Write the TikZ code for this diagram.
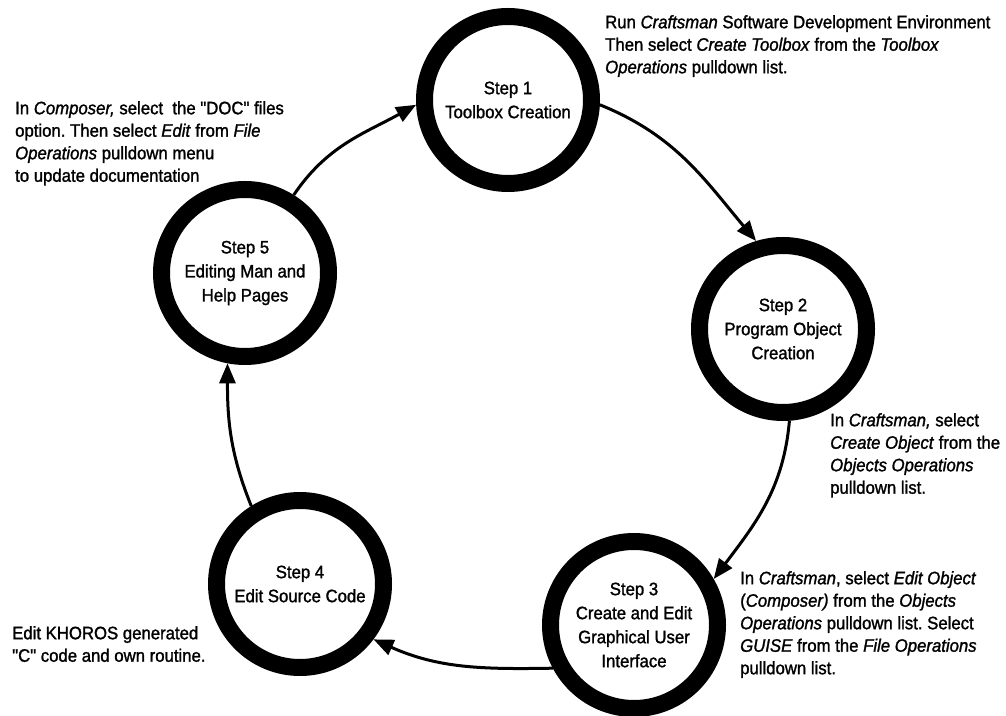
\documentclass[tikz,border=0pt]{standalone}
\usepackage{fontspec}
\setmainfont{Liberation Sans}[FakeStretch=0.93,FakeBold=1.4,Ligatures=TeXOff]
\usetikzlibrary{arrows.meta}
\tikzset{
    txt/.style={font=\fontsize{18}{22.5}\selectfont\frenchspacing},
}

\begin{document}
\begin{tikzpicture}[x=1pt,y=1pt,
                    stage/.style={circle,draw,line width=17pt,
                                  minimum size=167pt,inner sep=0pt,
                                  align=center,font=\fontsize{18}{24}\selectfont},
                    note/.style={anchor=north west,align=left,inner sep=0pt,txt},
                    flow/.style={line width=3pt,-{Triangle[length=20pt,width=16pt]}}]
    \useasboundingbox (0,0) rectangle (1006,715);
    % the five steps
    \node[stage] (s1) at (508,615) {Step 1\\Toolbox Creation};
    \node[stage] (s2) at (783,386) {Step 2\\Program Object\\Creation};
    \node[stage] (s3) at (634,90) {Step 3\\Create and Edit\\Graphical User\\Interface};
    \node[stage] (s4) at (300,131) {Step 4\\Edit Source Code};
    \node[stage] (s5) at (245,442) {Step 5\\Editing Man and\\Help Pages};
    % round the cycle
    \draw[flow] (s1.-3) to[out=-22,in=130] (s2.107);
    \draw[flow] (s2.-86) to[out=-95,in=53] (s3.30);
    \draw[flow] (s3.208) to[out=181,in=-24] (s4.-37);
    \draw[flow] (s4.122) to[out=112,in=-90] (s5.-101);
    \draw[flow] (s5.58) to[out=56,in=209] (s1.183);
    % what to do at each step
    \node[note] (n1) at (605,700) {Run \textit{Craftsman} Software Development Environment\\
        Then select \textit{Create Toolbox} from the \textit{Toolbox}\\
        \textit{Operations} pulldown list.};
    \node[note] (n5) at (15,614) {In \textit{Composer,} select~ the "DOC" files\\
        option. Then select \textit{Edit} from \textit{File}\\
        \textit{Operations} pulldown menu\\
        to update documentation};
    \node[note] (n2) at (830,302) {In \textit{Craftsman,} select\\
        \textit{Create Object} from the\\
        \textit{Objects Operations}\\
        pulldown list.};
    \node[note] (n3) at (740,144) {In \textit{Craftsman}, select \textit{Edit Object}\\
        (\textit{Composer)} from the \textit{Objects}\\
        \textit{Operations} pulldown list. Select\\
        \textit{GUISE} from the \textit{File Operations}\\
        pulldown list.};
    \node[note] (n4) at (12,89) {Edit KHOROS generated\\
        "C" code and own routine.};
\end{tikzpicture}
\end{document}
